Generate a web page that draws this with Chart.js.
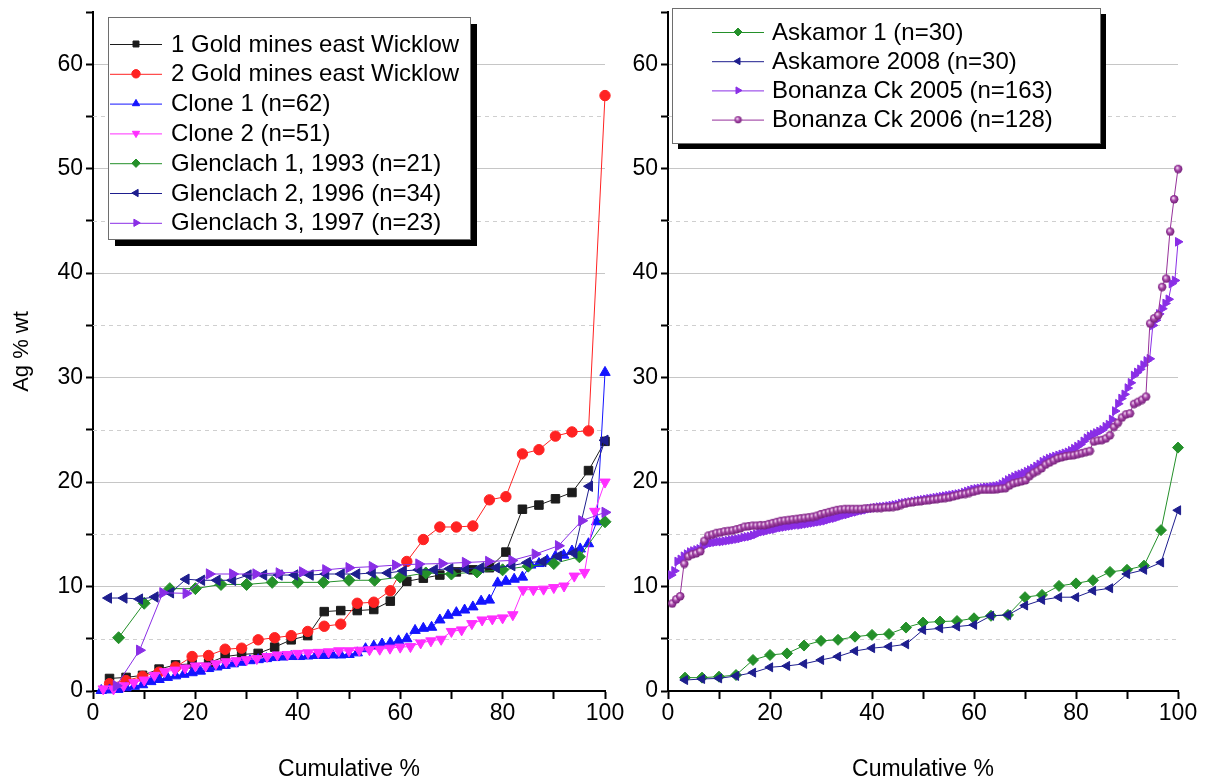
<!DOCTYPE html>
<html>
<head>
<meta charset="utf-8">
<script src="https://cdn.jsdelivr.net/npm/chart.js@4.4.0/dist/chart.umd.min.js"></script>
<style>
html, body { margin: 0; padding: 0; background: #fff; }
#wrap { position: relative; width: 1214px; height: 783px; overflow: hidden; }
#leftBox { position: absolute; left: 0; top: 0; width: 640px; height: 783px; }
#rightBox { position: absolute; left: 615px; top: 0; width: 599px; height: 783px; }
</style>
</head>
<body>
<div id="wrap">
  <div id="leftBox"><canvas id="leftChart" width="640" height="783"></canvas></div>
  <div id="rightBox"><canvas id="rightChart" width="599" height="783"></canvas></div>
</div>
<script>
// values, sorted (cumulative distribution)
const goldMines1 = [1.2, 1.3, 1.5, 2.1, 2.5, 2.6, 2.7, 3.3, 3.5, 3.6, 4.2, 4.9, 5.3, 7.6, 7.7, 7.7, 7.8, 8.6, 10.5, 10.8,
    11.1, 11.4, 11.6, 11.8, 13.3, 17.4, 17.8, 18.4, 19.0, 21.1, 23.9];
const goldMines2 = [0.7, 1.0, 1.4, 1.8, 2.3, 3.3, 3.4, 4.0, 4.1, 4.9, 5.1, 5.3, 5.7, 6.2, 6.4, 8.4, 8.5, 9.6, 12.4, 14.5,
    15.7, 15.7, 15.8, 18.3, 18.6, 22.7, 23.1, 24.4, 24.8, 24.9, 57.0];
const clone1 = [0.05, 0.1, 0.15, 0.3, 0.45, 0.6, 0.9, 1.1, 1.3, 1.45,
    1.6, 1.75, 1.9, 2.15, 2.3, 2.45, 2.6, 2.75, 2.9, 3.0,
    3.1, 3.2, 3.25, 3.3, 3.3, 3.35, 3.4, 3.4, 3.45, 3.45,
    3.5, 3.65, 4.05, 4.3, 4.5, 4.6, 4.8, 5.0, 5.8, 6.0,
    6.1, 6.8, 7.25, 7.5, 7.75, 8.05, 8.6, 8.7, 10.35, 10.5,
    10.7, 10.9, 12.05, 12.2, 12.5, 12.9, 13.0, 13.4, 13.6, 14.1,
    16.2, 30.5];
const clone2 = [0.2, 0.2, 0.5, 0.8, 1.05, 1.5, 1.85, 2.0, 2.2, 2.4,
    2.4, 2.6, 2.8, 2.9, 3.0, 3.1, 3.3, 3.45, 3.5, 3.6,
    3.65, 3.7, 3.75, 3.85, 3.85, 3.9, 3.95, 4.0, 4.1, 4.2,
    4.25, 4.6, 4.8, 4.95, 5.7, 5.85, 6.45, 6.8, 6.9, 7.0,
    7.3, 9.7, 9.7, 9.75, 9.9, 10.05, 11.0, 11.35, 17.2, 20.0];
const glenclach1 = [5.1, 8.4, 9.8, 9.8, 10.2, 10.2, 10.4, 10.4, 10.4, 10.6,
    10.6, 10.9, 11.3, 11.2, 11.4, 11.6, 11.95, 12.2, 12.85, 16.2];
const glenclach2 = [8.9, 8.9, 8.8, 9.0, 9.4, 10.7, 10.6, 10.6, 10.6, 11.1,
    11.1, 11.1, 11.1, 11.1, 11.2, 11.2, 11.2, 11.3, 11.3, 11.5,
    11.6, 11.6, 11.7, 11.7, 11.8, 11.8, 12.0, 12.3, 12.4, 12.9,
    13.2, 19.6, 24.0];
const glenclach3 = [0.5, 3.9, 9.4, 9.35, 11.2, 11.2, 11.2, 11.3, 11.4, 11.6,
    11.8, 11.9, 12.05, 12.15, 12.2, 12.3, 12.4, 12.5, 13.1, 13.9, 16.3, 17.1];

const askamor1 = [1.28, 1.28, 1.37, 1.53, 2.97, 3.45, 3.6, 4.35, 4.8, 4.9,
    5.2, 5.37, 5.46, 6.07, 6.55, 6.65, 6.7, 6.96, 7.2, 7.28,
    8.98, 9.2, 10.06, 10.3, 10.6, 11.4, 11.6, 12.0, 15.4, 23.3];
const askamore2008 = [1.05, 1.15, 1.21, 1.44, 1.76, 2.27, 2.4, 2.6, 2.97, 3.3,
    3.83, 4.1, 4.25, 4.47, 5.85, 6.0, 6.17, 6.33, 7.2, 7.28,
    8.18, 8.72, 8.98, 8.98, 9.6, 9.84, 11.2, 11.6, 12.3, 17.3];
const bonanza2005 = [11.1, 11.5, 12.4, 12.6, 12.9, 13.1, 13.3, 13.4, 13.5, 13.6,
    13.8, 14.0, 14.15, 14.2, 14.25, 14.3, 14.3, 14.35, 14.4, 14.45,
    14.5, 14.55, 14.6, 14.7, 14.75, 14.8, 14.9, 15.0, 15.15, 15.25,
    15.3, 15.4, 15.45, 15.5, 15.6, 15.65, 15.7, 15.75, 15.8, 15.85,
    15.9, 15.9, 15.95, 16.0, 16.05, 16.1, 16.15, 16.2, 16.25, 16.3,
    16.4, 16.5, 16.55, 16.65, 16.75, 16.85, 16.9, 17.0, 17.1, 17.15,
    17.25, 17.3, 17.35, 17.45, 17.5, 17.55, 17.6, 17.62, 17.65, 17.7,
    17.75, 17.8, 17.85, 17.95, 18.0, 18.05, 18.1, 18.15, 18.2, 18.25,
    18.3, 18.35, 18.4, 18.45, 18.5, 18.55, 18.6, 18.65, 18.7, 18.75,
    18.8, 18.85, 18.9, 19.0, 19.1, 19.2, 19.3, 19.35, 19.4, 19.45,
    19.5, 19.5, 19.55, 19.6, 19.65, 19.8, 20.0, 20.2, 20.35, 20.5,
    20.65, 20.75, 20.85, 21.0, 21.15, 21.3, 21.5, 21.7, 21.95, 22.1,
    22.25, 22.35, 22.45, 22.55, 22.65, 22.75, 22.85, 23.0, 23.2, 23.4,
    23.6, 23.9, 24.2, 24.4, 24.55, 24.7, 24.85, 25.0, 25.3, 25.5,
    26.0, 26.8, 27.5, 28.0, 28.4, 29.0, 29.5, 30.2, 30.5, 30.8,
    31.2, 31.6, 31.8, 35.0, 35.5, 36.1, 36.6, 37.1, 37.5, 39.0,
    39.3, 43.0];
const bonanza2006 = [8.4, 8.8, 9.1, 12.2, 12.9, 13.1, 13.2, 13.4, 14.4, 14.9,
    15.0, 15.15, 15.2, 15.3, 15.35, 15.4, 15.5, 15.6, 15.75, 15.8,
    15.85, 15.85, 15.9, 15.9, 16.0, 16.1, 16.2, 16.3, 16.35, 16.4,
    16.45, 16.5, 16.55, 16.6, 16.65, 16.7, 16.8, 16.95, 17.05, 17.15,
    17.25, 17.35, 17.4, 17.45, 17.45, 17.45, 17.45, 17.45, 17.5, 17.5,
    17.55, 17.55, 17.55, 17.6, 17.6, 17.65, 17.7, 17.85, 17.95, 18.05,
    18.1, 18.15, 18.2, 18.25, 18.3, 18.35, 18.4, 18.45, 18.5, 18.55,
    18.65, 18.75, 18.85, 18.9, 19.0, 19.1, 19.2, 19.3, 19.3, 19.3,
    19.3, 19.35, 19.4, 19.45, 19.7, 19.9, 20.0, 20.1, 20.2, 20.6,
    20.9, 21.1, 21.35, 21.7, 21.9, 22.1, 22.3, 22.4, 22.5, 22.55,
    22.6, 22.7, 22.8, 22.9, 23.0, 23.9, 24.0, 24.05, 24.2, 24.5,
    25.3, 25.7, 26.2, 26.5, 26.6, 27.5, 27.7, 27.9, 28.2, 35.2,
    35.7, 36.0, 38.7, 39.5, 44.0, 47.1, 50.0];

const yTickLabels = [0, 10, 20, 30, 40, 50, 60];
const xTickLabels = [0, 20, 40, 60, 80, 100];

const FONT = "'Liberation Sans', Arial, sans-serif";

// rank -> cumulative %
function cumulative(values) {
    return values.map((v, i) => ({ x: (i + 1) / values.length * 100, y: v }));
}

// ball marker for Bonanza Ck 2006
function makeSphere(r) {
    const c = document.createElement('canvas');
    c.width = c.height = 2 * r + 2;
    const g = c.getContext('2d');
    const grad = g.createRadialGradient(r + 1 - r * 0.25, r + 1 - r * 0.3, 0.3, r + 1, r + 1, r + 0.5);
    grad.addColorStop(0, '#f6dcf6');
    grad.addColorStop(0.45, '#a646a8');
    grad.addColorStop(1, '#6a1870');
    g.fillStyle = grad;
    g.beginPath();
    g.arc(r + 1, r + 1, r, 0, Math.PI * 2);
    g.fill();
    return c;
}

function series(label, values, color, style, rotation, radius) {
    return {
        label: label,
        data: cumulative(values),
        showLine: true,
        borderColor: color,
        backgroundColor: color,
        borderWidth: 1,
        pointStyle: style,
        pointRotation: rotation,
        pointRadius: radius,
        pointBackgroundColor: color,
        pointBorderColor: color,
        pointBorderWidth: 1,
        clip: false
    };
}

// dashed lines at the minor y ticks
const minorGrid = {
    id: 'minorGrid',
    beforeDatasetsDraw(chart) {
        const { ctx, chartArea } = chart;
        const y = chart.scales.y;
        ctx.save();
        ctx.strokeStyle = '#cfcfcf';
        ctx.lineWidth = 1;
        ctx.setLineDash([4, 4]);
        y.ticks.forEach(t => {
            if (t.value % 10 === 0 || t.value >= y.max) return;
            const py = Math.round(y.getPixelForValue(t.value)) + 0.5;
            ctx.beginPath();
            ctx.moveTo(chartArea.left, py);
            ctx.lineTo(chartArea.right, py);
            ctx.stroke();
        });
        ctx.restore();
    }
};

// boxed legend with a black drop shadow
const boxLegend = {
    id: 'boxLegend',
    afterDraw(chart, args, opts) {
        const ctx = chart.ctx;
        ctx.save();
        ctx.fillStyle = '#000';
        ctx.fillRect(opts.x + opts.shadow, opts.y + opts.shadow, opts.w, opts.h);
        ctx.fillStyle = '#fff';
        ctx.fillRect(opts.x, opts.y, opts.w, opts.h);
        ctx.strokeStyle = '#6e6e6e';
        ctx.lineWidth = 1;
        ctx.strokeRect(opts.x + 0.5, opts.y + 0.5, opts.w, opts.h);
        ctx.font = opts.fontSize + 'px ' + FONT;
        ctx.textBaseline = 'middle';
        chart.data.datasets.forEach((ds, i) => {
            const cy = opts.y + opts.first + i * opts.rowH;
            ctx.strokeStyle = ds.borderColor;
            ctx.lineWidth = 1;
            ctx.beginPath();
            ctx.moveTo(opts.lineX0, cy + 0.5);
            ctx.lineTo(opts.lineX1, cy + 0.5);
            ctx.stroke();
            ctx.fillStyle = ds.pointBackgroundColor;
            ctx.strokeStyle = ds.pointBorderColor;
            Chart.helpers.drawPoint(ctx, {
                pointStyle: ds.legendStyle || ds.pointStyle,
                rotation: ds.pointRotation || 0,
                radius: opts.markerR,
                borderWidth: 1
            }, (opts.lineX0 + opts.lineX1) / 2, cy);
            ctx.fillStyle = '#000';
            ctx.fillText(ds.label, opts.textX, cy + 1);
        });
        ctx.restore();
    }
};

function axes(yWidth, yTitle) {
    return {
        x: {
            type: 'linear',
            min: 0,
            max: 100,
            afterFit(s) { s.height = 92; s.paddingLeft = 0; s.paddingRight = 0; },
            ticks: {
                stepSize: 10,
                autoSkip: false,
                maxRotation: 0,
                padding: 1,
                color: '#000',
                font: { family: FONT, size: 23 },
                callback: v => xTickLabels.includes(v) ? String(v) : ''
            },
            grid: { drawOnChartArea: false, tickLength: 8, tickWidth: 2, tickColor: '#000' },
            border: { display: true, color: '#000', width: 2 },
            title: {
                display: true,
                text: 'Cumulative %',
                color: '#000',
                font: { family: FONT, size: 23 },
                padding: { top: 0, bottom: 0 }
            }
        },
        y: {
            min: 0,
            max: 65,
            afterFit(s) { s.width = yWidth; s.paddingTop = 0; s.paddingBottom = 0; },
            ticks: {
                stepSize: 5,
                autoSkip: false,
                padding: 3,
                color: '#000',
                font: { family: FONT, size: 23 },
                callback: v => yTickLabels.includes(v) ? String(v) : ''
            },
            grid: {
                color: c => (c.tick && c.tick.value % 10 === 0 && c.tick.value > 0) ? '#c6c6c6' : 'rgba(0,0,0,0)',
                lineWidth: 1,
                tickLength: 7,
                tickWidth: 2,
                tickColor: '#000'
            },
            border: { display: true, color: '#000', width: 2 },
            title: {
                display: !!yTitle,
                text: yTitle || '',
                color: '#000',
                font: { family: FONT, size: 22 },
                padding: { top: 9, bottom: 0 }
            }
        }
    };
}

function baseOptions(padRight, yWidth, yTitle, legendOpts) {
    return {
        responsive: false,
        animation: false,
        layout: { padding: { left: 0, right: padRight, top: 12, bottom: 0 } },
        scales: axes(yWidth, yTitle),
        plugins: {
            legend: { display: false },
            tooltip: { enabled: false },
            boxLegend: legendOpts
        }
    };
}

function withOrder(list) {
    list.forEach((d, i) => { d.order = list.length - i; });
    return list;
}

const sphere = makeSphere(4.2);
const sphereSmall = makeSphere(3.6);

new Chart(document.getElementById('leftChart'), {
    type: 'scatter',
    data: {
        datasets: withOrder([
            series('1 Gold mines east Wicklow', goldMines1, '#1c1c1c', 'rect', 0, 6),
            series('2 Gold mines east Wicklow', goldMines2, '#ff2222', 'circle', 0, 5.2),
            series('Clone 1 (n=62)', clone1, '#1414ff', 'triangle', 0, 6),
            series('Clone 2 (n=51)', clone2, '#ff2eff', 'triangle', 180, 6),
            series('Glenclach 1, 1993 (n=21)', glenclach1, '#24902a', 'rectRot', 0, 6),
            series('Glenclach 2, 1996 (n=34)', glenclach2, '#1e1e8e', 'triangle', -90, 6),
            series('Glenclach 3, 1997 (n=23)', glenclach3, '#8a2ee6', 'triangle', 90, 6)
        ])
    },
    options: baseOptions(35, 93, 'Ag % wt', {
        x: 108, y: 17, w: 362, h: 222, shadow: 7,
        first: 27, rowH: 29.8, lineX0: 110, lineX1: 162, markerR: 4.2,
        textX: 171, fontSize: 24
    }),
    plugins: [minorGrid, boxLegend]
});

const ds2006 = series('Bonanza Ck 2006 (n=128)', bonanza2006, '#96309a', sphere, 0, 4);
ds2006.legendStyle = sphereSmall;

new Chart(document.getElementById('rightChart'), {
    type: 'scatter',
    data: {
        datasets: withOrder([
            series('Askamor 1 (n=30)', askamor1, '#24902a', 'rectRot', 0, 5.5),
            series('Askamore 2008 (n=30)', askamore2008, '#1e1e8e', 'triangle', -90, 5.2),
            series('Bonanza Ck 2005 (n=163)', bonanza2005, '#8a2ee6', 'triangle', 90, 5),
            ds2006
        ])
    },
    options: baseOptions(36, 53, null, {
        x: 57, y: 8, w: 428, h: 135, shadow: 6,
        first: 24, rowH: 29.2, lineX0: 97, lineX1: 149, markerR: 4,
        textX: 157, fontSize: 24
    }),
    plugins: [minorGrid, boxLegend]
});
</script>
</body>
</html>
